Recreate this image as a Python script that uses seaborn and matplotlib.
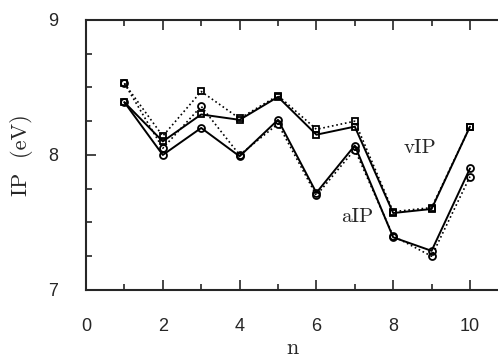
import numpy as np
import pandas as pd
import matplotlib
matplotlib.use("Agg")
import matplotlib.pyplot as plt
from matplotlib.ticker import MultipleLocator
import seaborn as sns

# cluster size n
n = [1, 2, 3, 4, 5, 6, 7, 8, 9, 10]

# vertical IP, two calculations
vip_solid = [8.39, 8.10, 8.30, 8.26, 8.43, 8.15, 8.21, 7.57, 7.60, 8.21]
vip_dot = [8.53, 8.14, 8.47, 8.27, 8.44, 8.19, 8.25, 7.58, 7.61, 8.21]

# adiabatic IP, two calculations
aip_solid = [8.39, 8.00, 8.20, 7.99, 8.26, 7.72, 8.07, 7.39, 7.29, 7.90]
aip_dot = [8.53, 8.05, 8.36, 8.00, 8.23, 7.70, 8.04, 7.40, 7.25, 7.84]

sns.set_style("ticks")
serif = ["cmr10", "DejaVu Serif"]

fig = plt.figure(figsize=(4.98, 3.64), dpi=100)
ax = fig.add_axes([0.1727, 0.2033, 0.8273, 0.742])

series = [
    (vip_solid, "s", "-"),
    (vip_dot, "s", ":"),
    (aip_solid, "o", "-"),
    (aip_dot, "o", ":"),
]
for vals, mk, ls in series:
    df = pd.DataFrame({"n": n, "ip": vals})
    sns.lineplot(data=df, x="n", y="ip", ax=ax, color="black", linestyle=ls,
                 linewidth=1.4 if ls == "-" else 1.2, marker=mk, markersize=5,
                 markerfacecolor="none", markeredgecolor="black",
                 markeredgewidth=1.3)

ax.text(8.7, 8.05, "vIP", family=serif, fontsize=15, ha="center", va="center")
ax.text(7.06, 7.54, "aIP", family=serif, fontsize=15, ha="center", va="center")

ax.set_xlim(0, 10.73)
ax.set_ylim(7, 9)
ax.xaxis.set_major_locator(MultipleLocator(2))
ax.xaxis.set_minor_locator(MultipleLocator(1))
ax.yaxis.set_major_locator(MultipleLocator(1))
ax.yaxis.set_minor_locator(MultipleLocator(0.25))

for sp in ["left", "bottom", "top"]:
    ax.spines[sp].set_linewidth(1.5)
ax.spines["right"].set_visible(False)

ax.tick_params(axis="both", which="both", direction="in", top=True, right=False,
               width=1.2, labelsize=13, pad=20)
ax.tick_params(axis="both", which="major", length=7)
ax.tick_params(axis="both", which="minor", length=4)
for lab in ax.get_xticklabels() + ax.get_yticklabels():
    lab.set_family("Liberation Sans")

ax.set_xlabel("n", family=serif, fontsize=16, labelpad=3)
ax.set_ylabel("IP  (eV)", family=serif, fontsize=16, labelpad=11)

fig.savefig("out.png", dpi=100)
